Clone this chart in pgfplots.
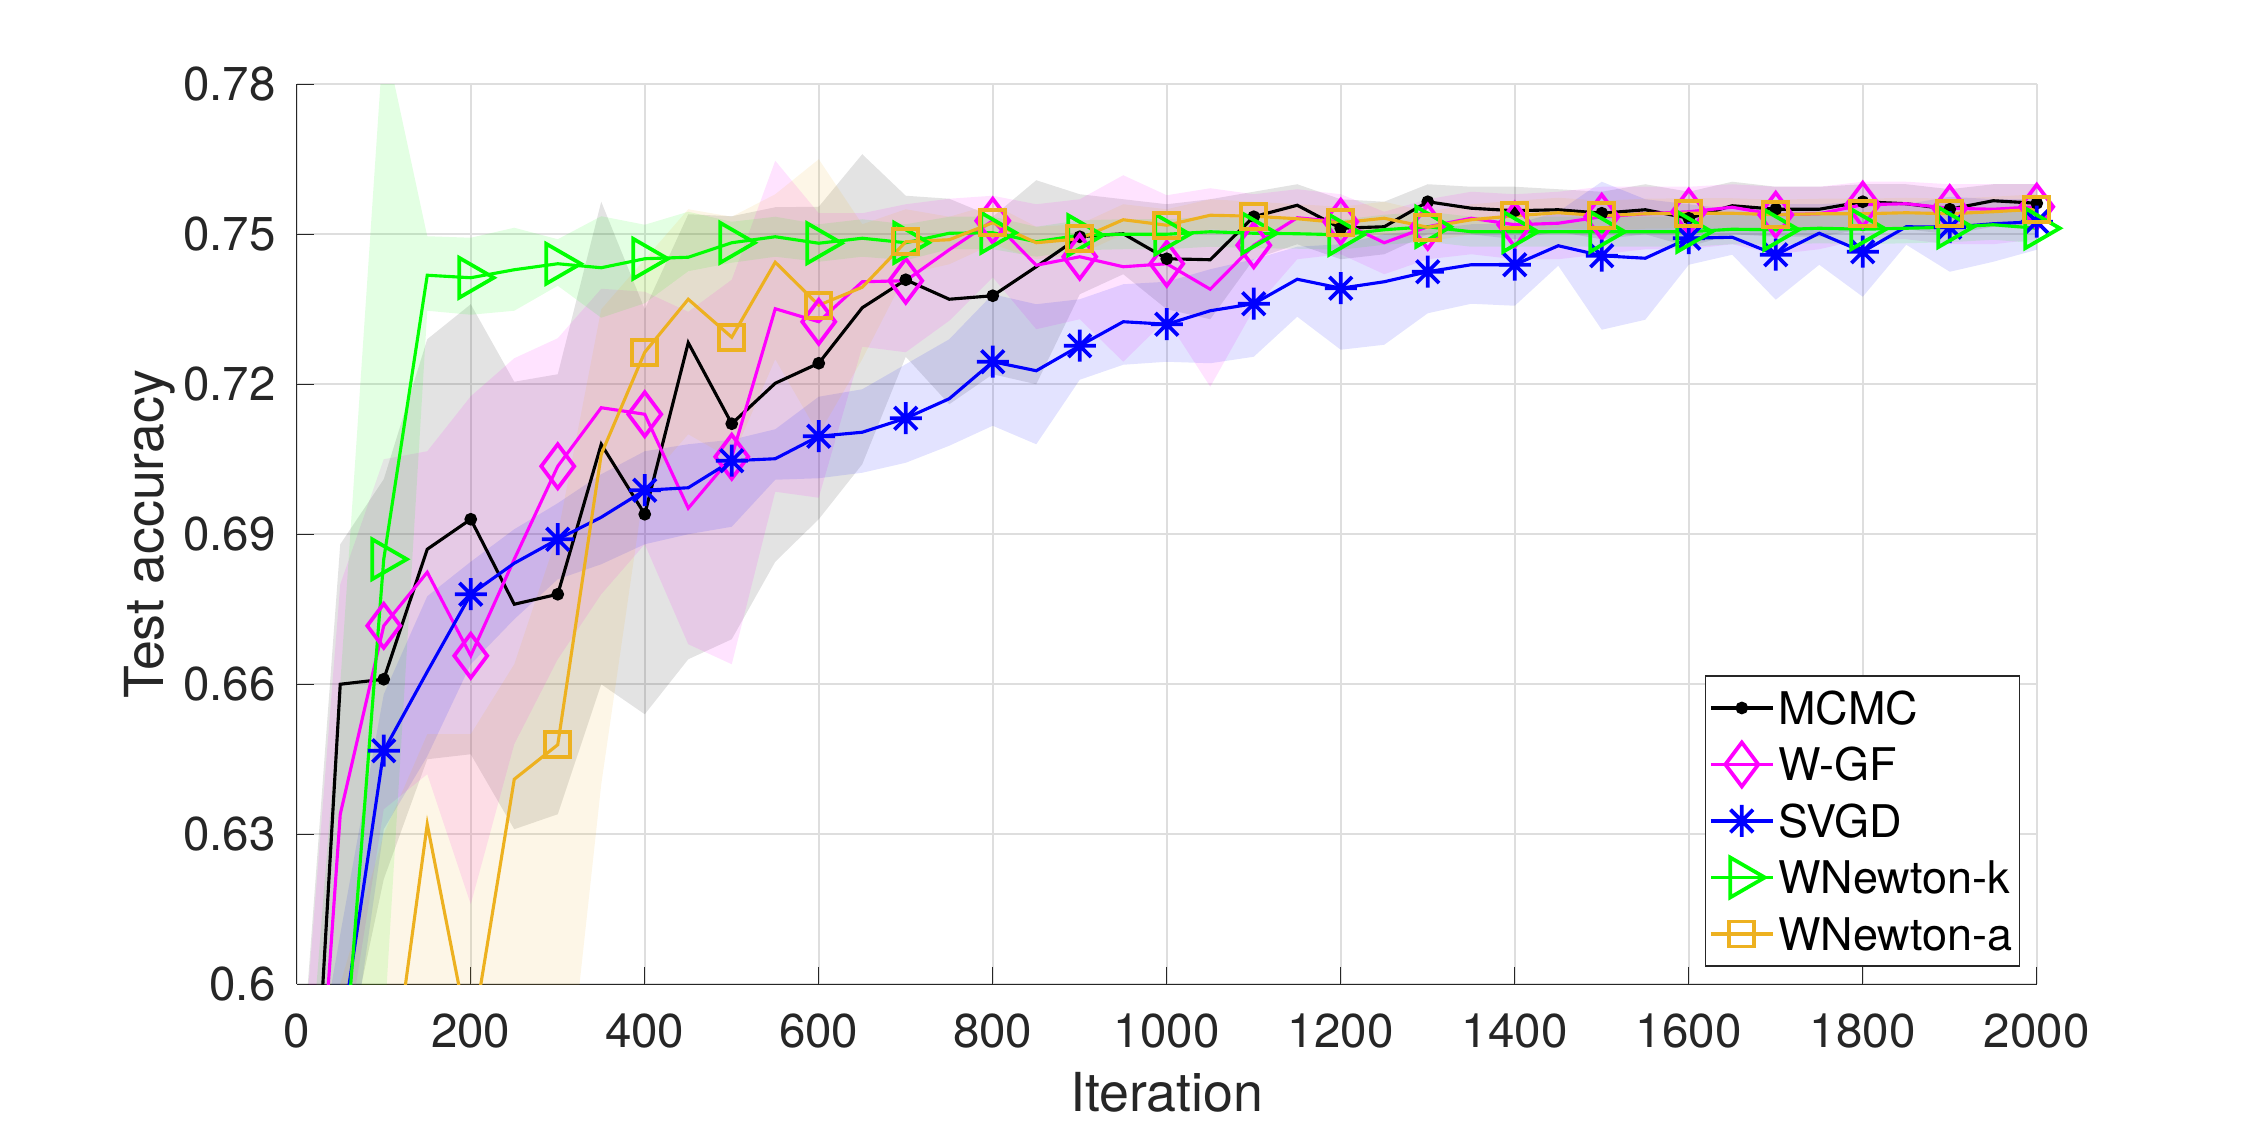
\documentclass[border=0pt]{standalone}
\usepackage{fontspec}
\setmainfont{TeX Gyre Heros}
\usepackage{pgfplots}
\pgfplotsset{compat=1.18}
\usepackage{pgfplotstable}
\usepgfplotslibrary{fillbetween}
\definecolor{mgold}{rgb}{0.929,0.694,0.125}
\definecolor{mmag}{rgb}{1,0,1}
\definecolor{mgreen}{rgb}{0,1,0}
\definecolor{mblue}{rgb}{0,0,1}
\definecolor{tickgray}{rgb}{0.15,0.15,0.15}
\definecolor{gridgray}{rgb}{0.87,0.87,0.87}
\pgfdeclareplotmark{mstar}{%
  \pgfpathmoveto{\pgfqpoint{0pt}{\pgfplotmarksize}}%
  \pgfpathlineto{\pgfqpoint{0pt}{-\pgfplotmarksize}}%
  \pgfpathmoveto{\pgfqpoint{\pgfplotmarksize}{0pt}}%
  \pgfpathlineto{\pgfqpoint{-\pgfplotmarksize}{0pt}}%
  \pgfpathmoveto{\pgfqpoint{0.707\pgfplotmarksize}{0.707\pgfplotmarksize}}%
  \pgfpathlineto{\pgfqpoint{-0.707\pgfplotmarksize}{-0.707\pgfplotmarksize}}%
  \pgfpathmoveto{\pgfqpoint{-0.707\pgfplotmarksize}{0.707\pgfplotmarksize}}%
  \pgfpathlineto{\pgfqpoint{0.707\pgfplotmarksize}{-0.707\pgfplotmarksize}}%
  \pgfusepathqstroke}
\pgfplotstableread{
x m1 l1 h1 m2 l2 h2 m3 l3 h3 m4 l4 h4 m5 l5 h5
0 0.51 0.45 0.57 0.51 0.45 0.57 0.52 0.48 0.56 0.50 0.45 0.55 0.50 0.45 0.55
50 0.660 0.58 0.688 0.634 0.58 0.68 0.588 0.57 0.61 0.573 0.50 0.66 0.55 0.50 0.60
100 0.661 0.621 0.701 0.6717 0.635 0.705 0.6467 0.631 0.658 0.685 0.59 0.79 0.568 0.50 0.63
150 0.687 0.645 0.729 0.6824 0.642 0.7066 0.6625 0.6456 0.6776 0.7418 0.7347 0.7496 0.632 0.55 0.65
200 0.693 0.646 0.736 0.6657 0.616 0.7176 0.678 0.664 0.6845 0.7413 0.7339 0.7493 0.5876 0.52 0.65
250 0.676 0.631 0.7205 0.685 0.648 0.7252 0.6842 0.673 0.691 0.7429 0.7347 0.7513 0.641 0.56 0.664
300 0.678 0.634 0.722 0.7036 0.665 0.7292 0.689 0.681 0.6962 0.7441 0.7397 0.749 0.6479 0.56 0.69
350 0.708 0.660 0.7565 0.7153 0.678 0.7391 0.6934 0.684 0.702 0.7433 0.7333 0.7536 0.706 0.64 0.735
400 0.694 0.654 0.735 0.714 0.688 0.7385 0.6988 0.688 0.7066 0.7451 0.7362 0.7519 0.7264 0.70 0.745
450 0.7283 0.665 0.754 0.6952 0.668 0.7345 0.6993 0.690 0.708 0.7454 0.7426 0.7545 0.737 0.71 0.755
500 0.7121 0.669 0.7536 0.7055 0.664 0.7409 0.7047 0.6915 0.7089 0.7483 0.7443 0.7525 0.7294 0.705 0.7535
550 0.7202 0.6845 0.7554 0.7351 0.6985 0.7647 0.7051 0.7009 0.711 0.7495 0.7455 0.7535 0.7444 0.725 0.758
600 0.7242 0.693 0.7555 0.7325 0.6973 0.7542 0.7096 0.7012 0.7175 0.7482 0.7445 0.752 0.7358 0.71 0.765
650 0.7353 0.704 0.766 0.7405 0.7275 0.7542 0.7104 0.7023 0.719 0.7492 0.7455 0.753 0.7394 0.725 0.752
700 0.7409 0.7255 0.7577 0.7407 0.7264 0.756 0.7132 0.7043 0.724 0.7483 0.7448 0.752 0.7485 0.742 0.755
750 0.737 0.716 0.7571 0.7469 0.7327 0.7571 0.7171 0.7077 0.729 0.7502 0.747 0.7535 0.7489 0.744 0.7535
800 0.7377 0.722 0.7535 0.7527 0.7414 0.7577 0.7245 0.7117 0.738 0.7503 0.747 0.7535 0.7523 0.748 0.756
850 0.7435 0.720 0.7608 0.7438 0.731 0.756 0.7227 0.708 0.736 0.7485 0.7455 0.7515 0.7483 0.745 0.7515
900 0.7495 0.738 0.758 0.7455 0.733 0.757 0.7277 0.7209 0.737 0.7498 0.7468 0.7528 0.7491 0.746 0.752
950 0.7501 0.742 0.757 0.7435 0.7245 0.7618 0.7325 0.7239 0.740 0.75 0.747 0.753 0.7529 0.750 0.756
1000 0.7451 0.735 0.756 0.7441 0.733 0.7578 0.732 0.7245 0.7405 0.75 0.747 0.753 0.7518 0.749 0.755
1050 0.7449 0.733 0.757 0.739 0.7195 0.7592 0.7347 0.7242 0.743 0.7505 0.7475 0.7535 0.7538 0.751 0.757
1100 0.7535 0.745 0.7585 0.7478 0.735 0.758 0.7361 0.7255 0.745 0.7502 0.7472 0.7532 0.7536 0.7505 0.7565
1150 0.7558 0.748 0.760 0.7533 0.745 0.759 0.741 0.7335 0.7475 0.7501 0.7471 0.7531 0.7531 0.750 0.756
1200 0.7512 0.745 0.757 0.7525 0.746 0.758 0.7392 0.7269 0.748 0.7499 0.7469 0.7529 0.7523 0.749 0.7555
1250 0.7515 0.746 0.7565 0.7483 0.742 0.7545 0.7405 0.7279 0.750 0.7509 0.7479 0.7539 0.7532 0.750 0.7565
1300 0.7565 0.750 0.760 0.7515 0.745 0.757 0.7425 0.7342 0.751 0.7515 0.7485 0.7545 0.7514 0.7485 0.7545
1350 0.7552 0.750 0.7595 0.7532 0.746 0.7585 0.7439 0.7361 0.752 0.7505 0.7475 0.7535 0.7529 0.750 0.756
1400 0.7547 0.749 0.7595 0.7519 0.745 0.758 0.7439 0.7357 0.752 0.7505 0.7475 0.7535 0.7537 0.7505 0.7567
1450 0.7549 0.7505 0.759 0.7522 0.745 0.7585 0.7477 0.7437 0.7545 0.7505 0.7475 0.7535 0.7543 0.7513 0.7573
1500 0.7542 0.749 0.7585 0.7535 0.746 0.7595 0.7457 0.7309 0.7605 0.7505 0.7475 0.7535 0.7537 0.7507 0.7567
1550 0.7549 0.750 0.760 0.7541 0.747 0.7595 0.7452 0.7329 0.757 0.7505 0.7475 0.7535 0.7541 0.7511 0.7571
1600 0.7532 0.7475 0.7585 0.7545 0.747 0.7595 0.7492 0.7439 0.756 0.7505 0.7475 0.7535 0.7542 0.7512 0.7572
1650 0.7557 0.750 0.7605 0.7554 0.748 0.760 0.7494 0.7459 0.755 0.751 0.748 0.754 0.7542 0.7512 0.7572
1700 0.755 0.7495 0.7595 0.7539 0.746 0.7595 0.7459 0.7369 0.756 0.7509 0.7479 0.7539 0.7539 0.7509 0.7569
1750 0.755 0.7495 0.7595 0.7541 0.747 0.7595 0.7502 0.7439 0.756 0.7512 0.7482 0.7542 0.7541 0.7511 0.7571
1800 0.7565 0.751 0.760 0.7559 0.749 0.7605 0.7465 0.7375 0.7565 0.751 0.748 0.754 0.7541 0.7511 0.7571
1850 0.7561 0.751 0.760 0.7561 0.749 0.7605 0.7515 0.7479 0.756 0.7512 0.7482 0.7542 0.7543 0.7513 0.7573
1900 0.755 0.750 0.759 0.7552 0.748 0.760 0.7514 0.7425 0.7575 0.7514 0.7484 0.7544 0.7541 0.7511 0.7571
1950 0.7567 0.7515 0.760 0.755 0.748 0.760 0.7521 0.7445 0.757 0.7519 0.7489 0.7549 0.7545 0.7515 0.7575
2000 0.7562 0.751 0.760 0.7555 0.749 0.760 0.7525 0.7469 0.757 0.7512 0.7482 0.7542 0.755 0.752 0.758
}\data
\begin{document}
\begin{tikzpicture}
\begin{axis}[
  at={(118.7pt,56.3pt)}, anchor=south west,
  width=696pt, height=360pt, scale only axis,
  xmin=0, xmax=2000, ymin=0.6, ymax=0.78,
  axis x line=bottom, axis y line=left,
  axis line style={-, draw=tickgray, line width=0.5pt},
  xtick={0,200,...,2000},
  xticklabels={0,200,400,600,800,1000,1200,1400,1600,1800,2000},
  ytick={0.6,0.63,0.66,0.69,0.72,0.75,0.78},
  yticklabels={0.6,0.63,0.66,0.69,0.72,0.75,0.78},
  tick align=inside, major tick length=6.8pt,
  tick style={draw=tickgray, line width=0.5pt},
  grid=major, grid style={draw=gridgray, line width=0.6pt},
  ticklabel style={font=\fontsize{19}{22}\selectfont, text=tickgray},
  xticklabel style={anchor=base, yshift=-25.2pt, inner sep=0pt},
  yticklabel style={anchor=east, xshift=-8.3pt, inner sep=0pt},
  xlabel={Iteration}, ylabel={Test accuracy},
  label style={font=\fontsize{21.5}{25}\selectfont, text=tickgray},
  xlabel style={at={(axis description cs:0.5,-0.1419)}, anchor=base},
  ylabel style={at={(axis description cs:-0.0767,0.5)}, anchor=base},
  legend cell align=left,
  legend style={at={(0.9906,0.0196)}, anchor=south east, draw=black!85, line width=0.5pt,
    fill=white, font=\fontsize{18}{21}\selectfont, inner sep=1.5pt, row sep=0pt,
    nodes={inner xsep=1.5pt, inner ysep=4.8pt, text height=13pt, text depth=0pt}},
  legend image code/.code={\draw[#1, mark repeat=2, mark phase=2] plot coordinates {(0pt,0pt) (12.4pt,0pt) (24.8pt,0pt)};},
]
% MCMC
\addplot[draw=none, name path=h1, forget plot] table[x=x,y=h1]{\data};
\addplot[draw=none, name path=l1, forget plot] table[x=x,y=l1]{\data};
\addplot[fill=black, fill opacity=0.11, draw=none, forget plot] fill between[of=h1 and l1];
\addplot[black, line width=1.25pt, mark=*, mark size=1.9pt, mark repeat=2, mark phase=2, mark options={fill=black, solid}] table[x=x,y=m1]{\data};
\addlegendentry{MCMC}
% W-GF
\addplot[draw=none, name path=h2, forget plot] table[x=x,y=h2]{\data};
\addplot[draw=none, name path=l2, forget plot] table[x=x,y=l2]{\data};
\addplot[fill=mmag, fill opacity=0.11, draw=none, forget plot] fill between[of=h2 and l2];
\addplot[mmag, line width=1.25pt, mark=diamond, mark size=8.8pt, mark repeat=2, mark phase=2, mark options={fill=white, solid, line width=1.5pt}] table[x=x,y=m2]{\data};
\addlegendentry{W-GF}
% SVGD
\addplot[draw=none, name path=h3, forget plot] table[x=x,y=h3]{\data};
\addplot[draw=none, name path=l3, forget plot] table[x=x,y=l3]{\data};
\addplot[fill=mblue, fill opacity=0.11, draw=none, forget plot] fill between[of=h3 and l3];
\addplot[mblue, line width=1.25pt, mark=mstar, mark size=6.4pt, mark repeat=2, mark phase=1, mark options={solid, line width=1.5pt}] table[x=x,y=m3]{\data};
\addlegendentry{SVGD}
% WNewton-k
\addplot[draw=none, name path=h4, forget plot] table[x=x,y=h4]{\data};
\addplot[draw=none, name path=l4, forget plot] table[x=x,y=l4]{\data};
\addplot[fill=mgreen, fill opacity=0.11, draw=none, forget plot] fill between[of=h4 and l4];
\addplot[mgreen, line width=1.25pt, mark=triangle, mark size=9.2pt, mark repeat=2, mark phase=1, mark options={fill=white, solid, rotate=-90, line width=1.5pt}] table[x=x,y=m4]{\data};
\addlegendentry{WNewton-k}
% WNewton-a
\addplot[draw=none, name path=h5, forget plot] table[x=x,y=h5]{\data};
\addplot[draw=none, name path=l5, forget plot] table[x=x,y=l5]{\data};
\addplot[fill=mgold, fill opacity=0.11, draw=none, forget plot] fill between[of=h5 and l5];
\addplot[mgold, line width=1.25pt, mark=square, mark size=5pt, mark repeat=2, mark phase=3, mark options={fill=white, solid, line width=1.5pt}] table[x=x,y=m5]{\data};
\addlegendentry{WNewton-a}
\end{axis}
\useasboundingbox (0,0) rectangle (900pt,450pt);
\end{tikzpicture}
\end{document}
